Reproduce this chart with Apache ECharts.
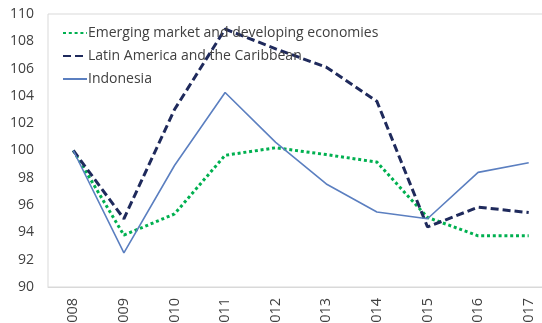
<!DOCTYPE html>
<html><head><meta charset="utf-8">
<script src="https://cdn.jsdelivr.net/npm/echarts@6/dist/echarts.min.js"></script>
<style>html,body{margin:0;padding:0;background:#fff}#c{width:542px;height:323px}</style>
</head><body><div id="c"></div>
<script>
const years = ['2008','2009','2010','2011','2012','2013','2014','2015','2016','2017'];
const emerging = [100, 93.8, 95.35, 99.65, 100.2, 99.7, 99.15, 95.1, 93.75, 93.75];
const latam = [100, 95.0, 103.0, 108.9, 107.45, 106.1, 103.6, 94.4, 95.85, 95.45];
const indonesia = [100, 92.5, 98.9, 104.25, 100.6, 97.55, 95.5, 95.0, 98.4, 99.1];
const yTicks = {min: 90, max: 110, interval: 2};

const chart = echarts.init(document.getElementById('c'));
const txt = '#404040';
const font = 'Open Sans';
chart.setOption({
  animation: false,
  grid: {left: 48, top: 14, bottom: 36, right: -12, outerBoundsMode: 'none', containLabel: false,
         show: true, borderColor: '#d9d9d9', borderWidth: 1},
  legend: {
    left: 57, top: 21, orient: 'vertical', itemWidth: 24, itemHeight: 14, itemGap: 9,
    itemStyle: {opacity: 0},
    textStyle: {color: txt, fontSize: 14, fontFamily: font, padding: [0,0,0,-4]},
    data: ['Emerging market and developing economies','Latin America and the Caribbean','Indonesia']
  },
  xAxis: {
    type: 'category', data: years, boundaryGap: true,
    axisLine: {lineStyle: {color: '#d9d9d9'}}, axisTick: {show: false},
    axisLabel: {rotate: 90, color: txt, fontSize: 14.5, fontFamily: font, margin: 11}
  },
  yAxis: {
    type: 'value', min: yTicks.min, max: yTicks.max, interval: yTicks.interval,
    splitLine: {show: false}, axisLine: {show: false}, axisTick: {show: false},
    axisLabel: {color: txt, fontSize: 14, fontFamily: font, margin: 14}
  },
  series: [
    {name: 'Emerging market and developing economies', type: 'line', data: emerging, symbol: 'none',
     lineStyle: {color: '#00b050', width: 3, type: [3, 2.8]}, itemStyle: {color: '#00b050'}},
    {name: 'Latin America and the Caribbean', type: 'line', data: latam, symbol: 'none',
     lineStyle: {color: '#1f2a5c', width: 3, type: [8, 4]}, itemStyle: {color: '#1f2a5c'}},
    {name: 'Indonesia', type: 'line', data: indonesia, symbol: 'none',
     lineStyle: {color: '#5b7fc0', width: 1.6}, itemStyle: {color: '#5b7fc0'}}
  ]
});
</script></body></html>
